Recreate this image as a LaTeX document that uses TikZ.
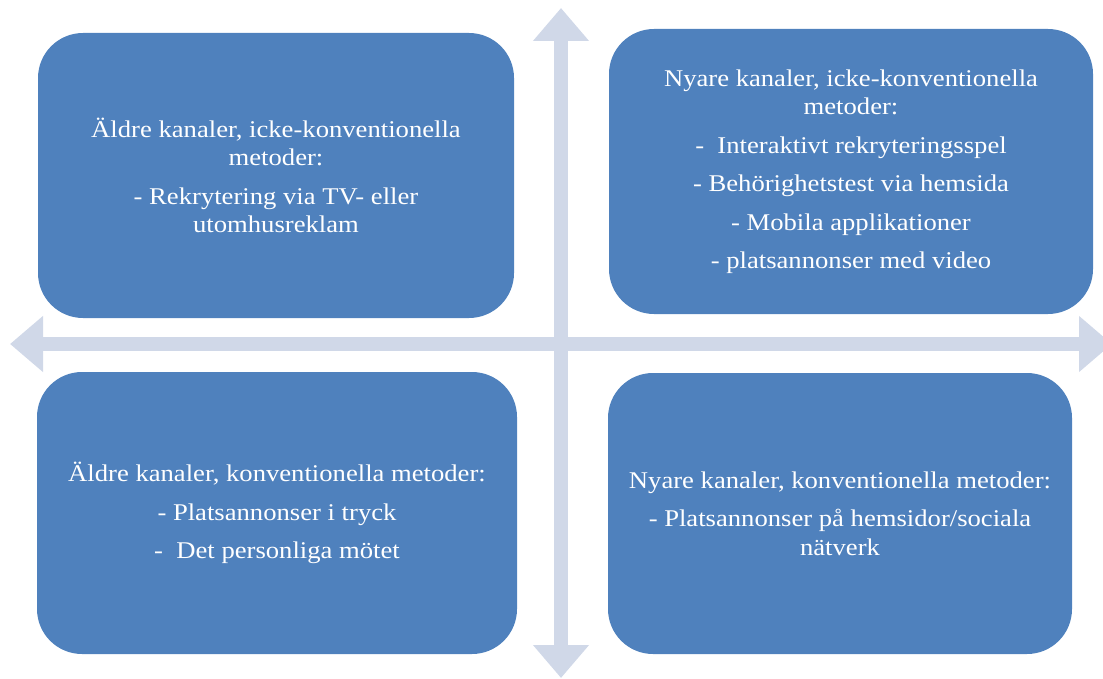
\documentclass[tikz,border=0pt]{standalone}
\usepackage{fontspec}
\setmainfont[FakeStretch=1.11]{Liberation Serif}
\usetikzlibrary{arrows.meta}
\definecolor{quadblue}{HTML}{4F81BD}
\definecolor{axisgrey}{HTML}{D0D8E8}
\tikzset{quad/.style={fill=quadblue,rounded corners=45pt,text=white,align=center,inner sep=0pt,font=\fontsize{24}{28.5}\selectfont},axis/.style={draw=axisgrey,line width=13.5pt,{Triangle[width=54pt,length=33pt]}-{Triangle[width=54pt,length=33pt]}}}

\begin{document}
\begin{tikzpicture}[x=1pt,y=-1pt]
\useasboundingbox (0,0) rectangle (1103,679);
\coordinate (up) at (561,8); \coordinate (down) at (561,678);
\coordinate (left) at (10,344); \coordinate (right) at (1112,344);
\draw[axis] (up)--(down); \draw[axis] (left)--(right);
\node[quad,minimum width=476pt,minimum height=285pt] (oldother) at (276,175.5) {Äldre kanaler, icke-konventionella\\metoder:\\[10pt]- Rekrytering via TV- eller\\utomhusreklam};
\node[quad,minimum width=484pt,minimum height=285pt] (newother) at (851,171.5) {Nyare kanaler, icke-konventionella\\metoder:\\[10pt]- \ Interaktivt rekryteringsspel\\[10pt]- Behörighetstest via hemsida\\[10pt]- Mobila applikationer\\[10pt]- platsannonser med video};
\node[quad,minimum width=480pt,minimum height=282pt] (oldconv) at (277,513) {Äldre kanaler, konventionella metoder:\\[10pt]- Platsannonser i tryck\\[10pt]- \ Det personliga mötet};
\node[quad,minimum width=464pt,minimum height=281pt] (newconv) at (840,513.5) {Nyare kanaler, konventionella metoder:\\[10pt]- Platsannonser på hemsidor/sociala\\nätverk};
\end{tikzpicture}
\end{document}
